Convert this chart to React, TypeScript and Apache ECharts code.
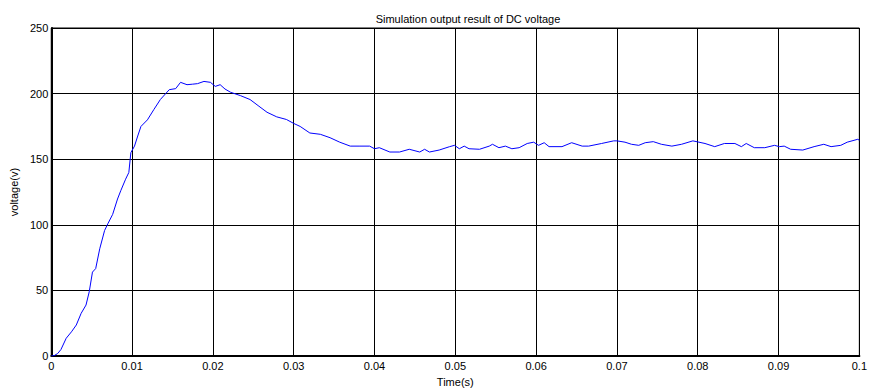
import React, { useEffect, useRef } from "react";
import * as echarts from "echarts";

const TITLE = "Simulation output result of DC voltage";
const X_NAME = "Time(s)";
const Y_NAME = "voltage(v)";

const timeS = [
  0, 0.0004, 0.0008, 0.0012, 0.00185, 0.0025, 0.0031, 0.0037, 0.0043, 0.0047, 0.0051, 0.0055,
  0.006, 0.0066, 0.007, 0.0076, 0.0082, 0.0086, 0.0092, 0.0096, 0.00985, 0.0103, 0.0107, 0.0111,
  0.0119, 0.0127, 0.0135, 0.0146, 0.0154, 0.016, 0.0168, 0.0175, 0.0181, 0.0189, 0.0197, 0.0203,
  0.0209, 0.0215, 0.0222, 0.0234, 0.0246, 0.0257, 0.0267, 0.0279, 0.0291, 0.03, 0.0308, 0.032,
  0.0333, 0.0345, 0.0357, 0.037, 0.0382, 0.0394, 0.04, 0.0406, 0.0419, 0.0431, 0.0443, 0.0456,
  0.0462, 0.0468, 0.048, 0.0493, 0.0499, 0.0505, 0.0511, 0.0517, 0.053, 0.0542, 0.0546, 0.0554,
  0.0562, 0.057, 0.0579, 0.0589, 0.0597, 0.0603, 0.061, 0.0616, 0.0632, 0.0644, 0.0657, 0.0665,
  0.0681, 0.0696, 0.07, 0.071, 0.0718, 0.0727, 0.0735, 0.0745, 0.0755, 0.0768, 0.078, 0.0794,
  0.0809, 0.0821, 0.0833, 0.0846, 0.0854, 0.086, 0.087, 0.0883, 0.0895, 0.0901, 0.0907, 0.0915,
  0.093, 0.0944, 0.0956, 0.0965, 0.0977, 0.0985, 0.0998, 0.1,
];

const voltageV = [
  0, 0.5, 2, 5, 13.6, 18.5, 23.7, 32.6, 38.9, 49, 64, 66.7,
  81.8, 95.7, 100.8, 108, 119.7, 126, 134.8, 139.9, 155, 160, 167.7, 175,
  180, 187.9, 195.5, 203, 203.8, 208.6, 206.8, 207.2, 207.6, 209.3, 208.6, 205.5,
  206.8, 203.5, 201, 198.5, 195.5, 190.4, 185.8, 182.3, 180.3, 177.3, 175, 170,
  169, 166.4, 163, 160, 160, 160, 158, 158.8, 155.5, 155.5, 157.6, 155.5,
  157.6, 155.5, 157, 159.6, 160.6, 158, 160, 158, 157.6, 160, 161.4, 158.8,
  160, 158, 158.8, 162, 163, 160.6, 162.6, 159.6, 159.6, 162.6, 160, 160,
  162, 164, 164, 163, 161.4, 160.6, 162.6, 163.4, 161.4, 160, 161.4, 164,
  162, 159.6, 162, 162, 159.6, 162, 158.8, 158.8, 160.6, 159.6, 160, 157.6,
  157, 159.6, 161.4, 159.6, 160.6, 163, 165.2, 164.5,
];

const FONT = "Liberation Sans, Arial, sans-serif";

export default function App() {
  const ref = useRef<HTMLDivElement>(null);
  useEffect(() => {
    if (!ref.current) return;
    const chart = echarts.init(ref.current, undefined, { renderer: "svg" });
    const data = timeS.map((t, i) => [t, voltageV[i]]);
    chart.setOption({
      animation: false,
      backgroundColor: "#ffffff",
      title: {
        text: TITLE,
        left: 463,
        textAlign: "center",
        top: 8,
        textStyle: { fontFamily: FONT, fontSize: 11, fontWeight: "normal", color: "#000" },
      },
      grid: {
        left: 50,
        right: 8,
        top: 28,
        bottom: 34,
        show: true,
        borderColor: "#000",
        borderWidth: 1,
        backgroundColor: "#fff",
      },
      xAxis: {
        type: "value",
        min: 0,
        max: 0.1,
        interval: 0.01,
        name: X_NAME,
        nameLocation: "middle",
        nameGap: 19,
        nameTextStyle: { fontFamily: FONT, fontSize: 11, color: "#000" },
        axisLine: { show: true, onZero: false, lineStyle: { color: "#000", width: 2 } },
        axisTick: { show: true, inside: true, length: 4, lineStyle: { color: "#000" } },
        axisLabel: {
          fontFamily: FONT,
          fontSize: 11,
          color: "#000",
          margin: 4,
          formatter: (v: number) => String(+v.toFixed(2)),
        },
        splitLine: { show: true, lineStyle: { color: "#000", width: 1 } },
      },
      yAxis: {
        type: "value",
        min: 0,
        max: 250,
        interval: 50,
        name: Y_NAME,
        nameLocation: "middle",
        nameGap: 29,
        nameTextStyle: { fontFamily: FONT, fontSize: 11, color: "#000" },
        axisLine: { show: true, onZero: false, lineStyle: { color: "#000", width: 2 } },
        axisTick: { show: true, inside: true, length: 4, lineStyle: { color: "#000" } },
        axisLabel: { fontFamily: FONT, fontSize: 11, color: "#000", margin: 3 },
        splitLine: { show: true, lineStyle: { color: "#000", width: 1 } },
      },
      series: [
        {
          type: "line",
          data,
          showSymbol: false,
          symbol: "none",
          lineStyle: { color: "#0000ff", width: 1 },
          z: 5,
        },
      ],
    });
    return () => chart.dispose();
  }, []);
  return (
    <div
      ref={ref}
      style={{ position: "fixed", left: 0, top: 0, width: 870, height: 392 }}
    />
  );
}
